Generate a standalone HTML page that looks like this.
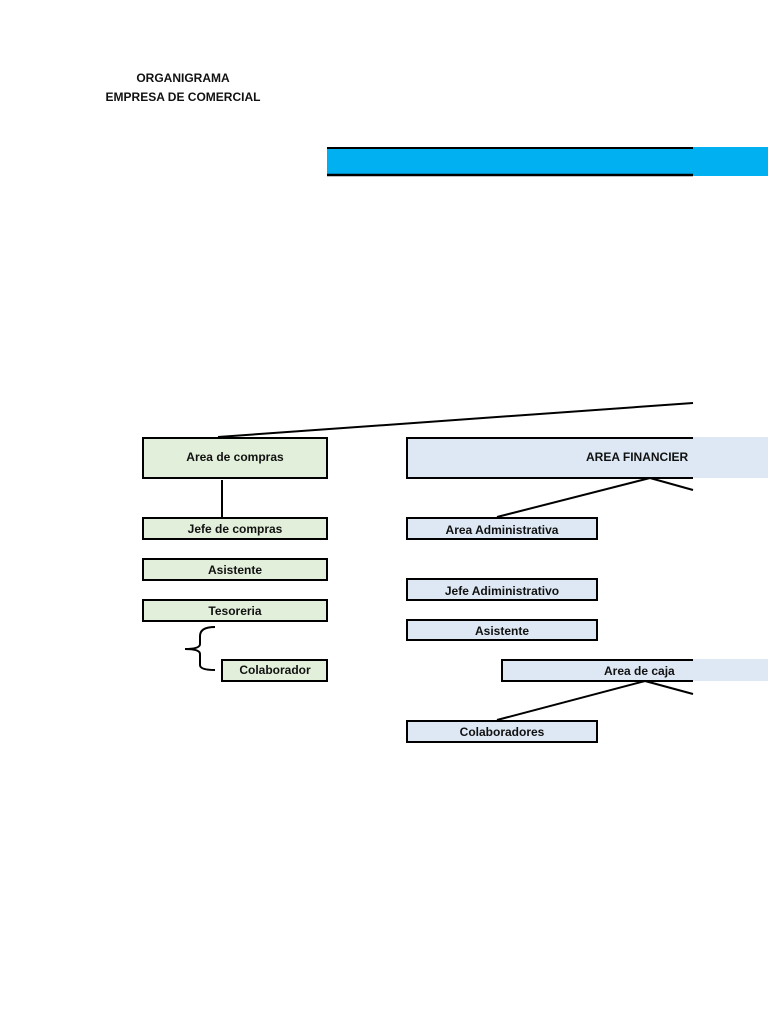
<!DOCTYPE html>
<html><head><meta charset="utf-8"><style>
html,body{margin:0;padding:0;background:#fff;width:768px;height:1024px;overflow:hidden}
svg text{font-family:"Liberation Sans",sans-serif;font-weight:bold;font-size:12px;fill:#111}
</style></head><body>
<svg width="768" height="1024" xmlns="http://www.w3.org/2000/svg">
<text x="183" y="82" text-anchor="middle" font-size="12.5">ORGANIGRAMA</text>
<text x="183" y="101" text-anchor="middle" font-size="12.5">EMPRESA DE COMERCIAL</text>
<rect x="327" y="147" width="441" height="29" fill="#00b0f0"/>
<line x1="327" y1="148" x2="693" y2="148" stroke="#000" stroke-width="2"/>
<line x1="327" y1="175" x2="693" y2="175" stroke="#000" stroke-width="2.5"/>
<g stroke="#000" stroke-width="2" fill="none">
<line x1="218" y1="437" x2="693" y2="403"/>
<line x1="222" y1="480" x2="222" y2="517"/>
<line x1="650" y1="478" x2="497" y2="517"/>
<line x1="650" y1="478" x2="693" y2="490"/>
<line x1="645" y1="681" x2="497" y2="720"/>
<line x1="645" y1="681" x2="693" y2="694"/>
<path d="M215,627 Q200,627 200,636 L200,644 Q200,649 185,649 Q200,649 200,654 L200,665 Q200,670 215,670"/>
</g>
<g stroke="#000" stroke-width="2" fill="#e2efda">
<rect x="143" y="438" width="184" height="40"/>
<rect x="143" y="518" width="184" height="21"/>
<rect x="143" y="559" width="184" height="21"/>
<rect x="143" y="600" width="184" height="21"/>
<rect x="222" y="660" width="105" height="21"/>
</g>
<rect x="693" y="437" width="75" height="41" fill="#dde8f4"/>
<rect x="693" y="659" width="75" height="22" fill="#dde8f4"/>
<g stroke="#000" stroke-width="2" fill="#dde8f4">
<path d="M693,438 L407,438 L407,478 L693,478"/>
<rect x="407" y="518" width="190" height="21"/>
<rect x="407" y="579" width="190" height="21"/>
<rect x="407" y="620" width="190" height="20"/>
<path d="M693,660 L502,660 L502,681 L693,681"/>
<rect x="407" y="721" width="190" height="21"/>
</g>
<text x="235" y="461" text-anchor="middle">Area de compras</text>
<text x="235" y="533" text-anchor="middle">Jefe de compras</text>
<text x="235" y="574" text-anchor="middle">Asistente</text>
<text x="235" y="615" text-anchor="middle">Tesoreria</text>
<text x="275" y="674" text-anchor="middle">Colaborador</text>
<text x="586" y="461">AREA FINANCIER</text>
<text x="502" y="534" text-anchor="middle">Area Administrativa</text>
<text x="502" y="595" text-anchor="middle">Jefe Adiministrativo</text>
<text x="502" y="635" text-anchor="middle">Asistente</text>
<text x="604" y="675">Area de caja</text>
<text x="502" y="736" text-anchor="middle">Colaboradores</text>
</svg>
</body></html>
